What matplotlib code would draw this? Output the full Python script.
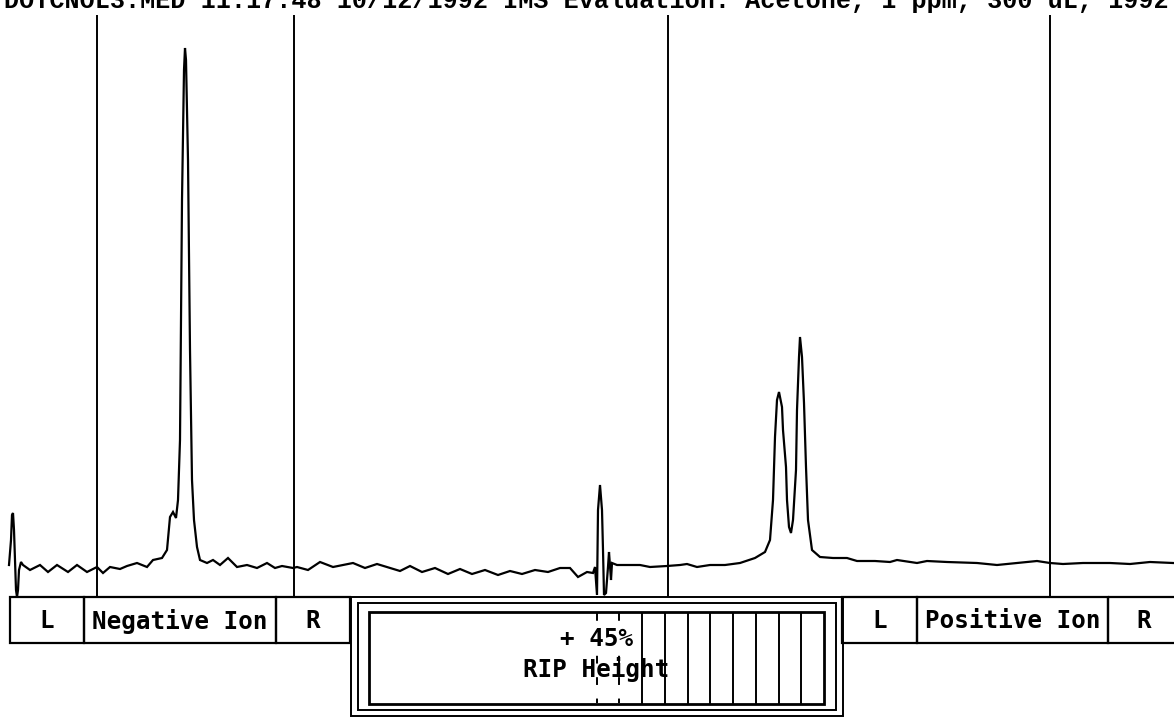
import matplotlib
matplotlib.use("Agg")
import matplotlib.pyplot as plt
from matplotlib.patches import Rectangle

# drift channel vs. detector signal (baseline = 0)
drift = [9, 11, 12, 13, 14, 15, 16, 17, 18, 19, 21, 23, 30, 40, 48, 57, 68, 77, 87, 97,
         103, 110, 120, 127, 137, 147, 153, 162, 167, 170, 173, 176, 178, 180, 182, 184,
         185, 186, 188, 190, 192, 194, 197, 200, 207, 213, 220, 228, 237, 247, 257, 267,
         275, 282, 293, 297, 308, 320, 333, 343, 353, 365, 377, 390, 400, 410, 422, 435,
         448, 460, 472, 485, 498, 510, 522, 535, 548, 560, 570, 578, 587, 593, 595, 597,
         598, 600, 602, 603, 604, 606, 608, 609, 611, 612, 617, 627, 640, 650, 667, 680,
         687, 697, 710, 725, 740, 755, 765, 770, 773, 775, 777, 779, 782, 783, 786, 787,
         789, 791, 793, 796, 797, 799, 800, 802, 804, 806, 808, 812, 820, 833, 847, 857,
         875, 890, 897, 917, 927, 947, 977, 997, 1017, 1037, 1050, 1063, 1083, 1110, 1130,
         1150, 1173]
signal = [0, 25, 50, 52, 35, 5, -25, -32, -25, -5, 3, 0, -5, 0, -7, 0, -7, 0, -7, -2,
          -8, -2, -4, -1, 2, -2, 5, 7, 15, 48, 53, 47, 65, 125, 365, 495,
          517, 505, 405, 215, 85, 45, 18, 5, 2, 5, 0, 7, -2, 0, -3, 2,
          -3, -1, -3, -2, -5, 3, -2, 0, 2, -3, 1, -3, -6, -1, -7, -3,
          -9, -4, -9, -5, -10, -6, -9, -5, -7, -3, -3, -12, -7, -8, -2, -30,
          55, 80, 55, 15, -30, -28, -2, 13, -15, 2, 0, 0, 0, -2, -1, 0,
          1, -2, 0, 0, 2, 7, 13, 25, 65, 128, 165, 173, 158, 135, 98, 65,
          38, 32, 45, 95, 155, 208, 228, 208, 162, 98, 45, 15, 8, 7, 7, 4,
          4, 3, 5, 2, 4, 3, 2, 0, 2, 4, 2, 1, 2, 2, 1,
          3, 2]

# gate / window markers
markers = [97, 294, 668, 1050]

header = "DOTCNOL3.MED 11:17:48 10/12/1992 IMS Evaluation: Acetone, 1 ppm, 300 uL, 1992"
rip_text = "+ 45%"
rip_label = "RIP Height"
neg_boxes = ["L", "Negative Ion", "R"]
pos_boxes = ["L", "Positive Ion", "R"]
meter_segments = 20
meter_marks = list(range(10, 20))
meter_dashed = [10, 11]

W, H = 1174, 717
fig = plt.figure(figsize=(W / 100, H / 100), dpi=100)
fig.patch.set_facecolor("white")

# panel layer in pixel coordinates
pan = fig.add_axes([0, 0, 1, 1])
pan.set_xlim(0, W)
pan.set_ylim(H, 0)
pan.axis("off")

# spectrum layer
ax = fig.add_axes([0, 120 / H, 1, 597 / H])
ax.set_xlim(0, W)
ax.set_ylim(-32, 565)
ax.axis("off")
ax.plot(drift, signal, color="black", lw=1.6, solid_joinstyle="miter")
ax.vlines(markers, -32, 550, color="black", lw=1.4)

# header line is cut off by the top edge in the scan
fig.text(4 / W, 1 - 8 / H, header, family="Liberation Mono", fontsize=18.1,
         weight="bold", va="baseline", ha="left")

font = dict(family="DejaVu Sans Mono", weight="bold", fontsize=17.5)

def box_row(edges, labels, top=597, bot=643):
    for i, lab in enumerate(labels):
        x0, x1 = edges[i], edges[i + 1]
        pan.add_patch(Rectangle((x0, top), x1 - x0, bot - top, fill=False,
                                lw=1.6, ec="black"))
        pan.text((x0 + x1) / 2, (top + bot) / 2 + 1, lab, ha="center",
                 va="center", **font)

box_row([10, 84, 276, 350], neg_boxes)
box_row([842, 917, 1108, 1180], pos_boxes)

# RIP height meter with triple frame
pan.add_patch(Rectangle((351, 597), 492, 119, fill=False, lw=1.4, ec="black"))
pan.add_patch(Rectangle((358, 603), 478, 107, fill=False, lw=1.4, ec="black"))
x0, x1, y0, y1 = 369, 824, 612, 704
pan.add_patch(Rectangle((x0, y0), x1 - x0, y1 - y0, fill=False, lw=2.0, ec="black"))
step = (x1 - x0) / meter_segments
for k in meter_marks:
    xk = x0 + k * step
    ls = (0, (4, 7)) if k in meter_dashed else "-"
    pan.plot([xk, xk], [y0 + 1, y1 - 1], color="black", lw=1.4, ls=ls, zorder=2)

box = dict(facecolor="white", edgecolor="none", pad=0)
pan.text(633, 639, rip_text, ha="right", va="center", bbox=box, zorder=3, **font)
pan.text(669, 670, rip_label, ha="right", va="center", zorder=3, **font)

fig.savefig("out.png", dpi=100)
